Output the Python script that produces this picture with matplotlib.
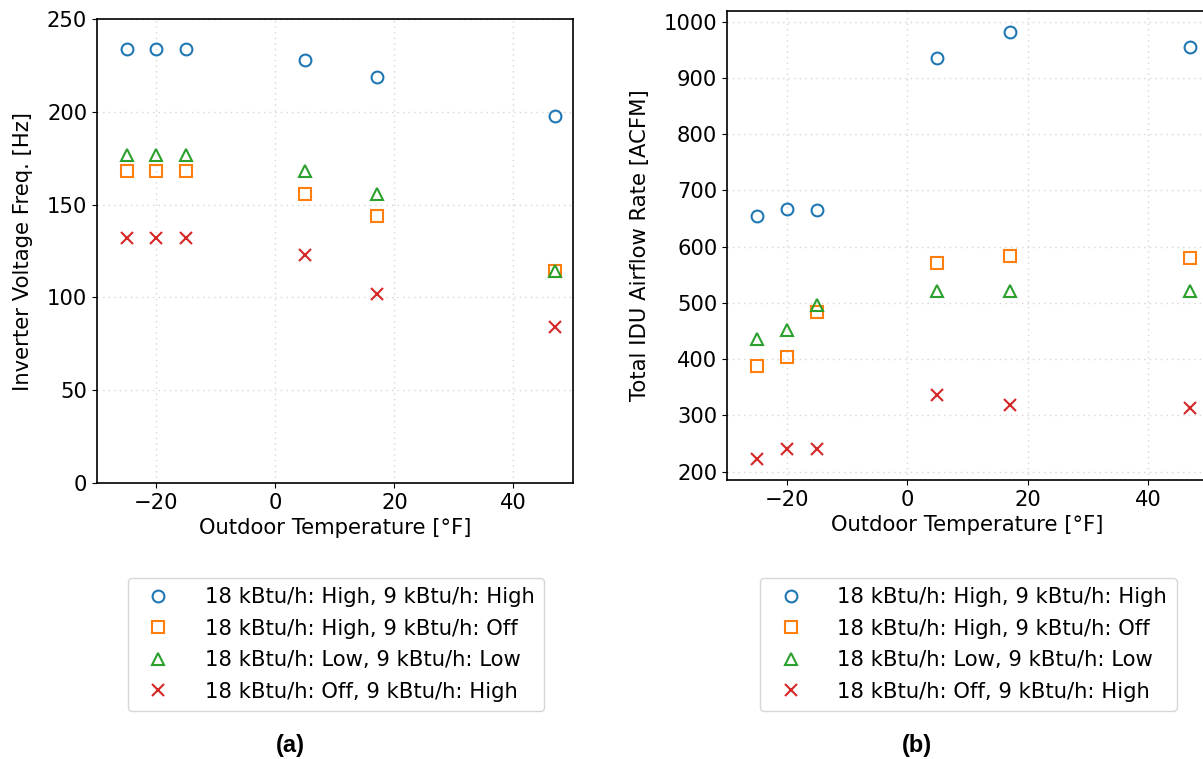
import matplotlib.pyplot as plt

# outdoor temperatures [F]
temps = [-25, -20, -15, 5, 17, 47]

labels = ['18 kBtu/h: High, 9 kBtu/h: High',
          '18 kBtu/h: High, 9 kBtu/h: Off',
          '18 kBtu/h: Low, 9 kBtu/h: Low',
          '18 kBtu/h: Off, 9 kBtu/h: High']

# (a) inverter voltage frequency [Hz]
freq_high_high = [234, 234, 234, 228, 219, 198]
freq_high_off = [168, 168, 168, 156, 144, 114]
freq_low_low = [177, 177, 177, 168, 156, 114]
freq_off_high = [132, 132, 132, 123, 102, 84]

# (b) total IDU airflow rate [ACFM]
flow_high_high = [655, 667, 666, 935, 981, 955]
flow_high_off = [387, 404, 483, 571, 583, 580]
flow_low_low = [435, 451, 497, 521, 521, 521]
flow_off_high = [223, 241, 241, 336, 318, 313]

markers = ['o', 's', '^', 'x']
colors = ['#1f77b4', '#ff7f0e', '#2ca02c', '#d62728']

plt.rcParams['font.family'] = 'DejaVu Sans'
plt.rcParams['font.size'] = 15.2

fig = plt.figure(figsize=(12.03, 7.59), dpi=100)
ax1 = fig.add_axes([0.0806, 0.3636, 0.3957, 0.6113])
ax2 = fig.add_axes([0.6043, 0.3676, 0.400, 0.6179])


def draw(ax, series, ylabel):
    for y, m, c, lab in zip(series, markers, colors, labels):
        if m == 'x':
            ax.plot(temps, y, m, color=c, markersize=9, mew=1.5, label=lab)
        else:
            ax.plot(temps, y, m, color=c, mfc='none', markersize=8.5, mew=1.5, label=lab)
    ax.set_xlim(-30, 50)
    ax.set_xticks([-20, 0, 20, 40])
    ax.set_xlabel('Outdoor Temperature [°F]')
    ax.set_ylabel(ylabel, labelpad=10)
    ax.grid(True, linestyle=(0, (1, 3)), color='#d5d5d5', linewidth=1)
    ax.set_axisbelow(True)
    for sp in ax.spines.values():
        sp.set_linewidth(1.2)


draw(ax1, [freq_high_high, freq_high_off, freq_low_low, freq_off_high],
     'Inverter Voltage Freq. [Hz]')
ax1.set_ylim(0, 250)
ax1.set_yticks([0, 50, 100, 150, 200, 250])

draw(ax2, [flow_high_high, flow_high_off, flow_low_low, flow_off_high],
     'Total IDU Airflow Rate [ACFM]')
ax2.set_yticks(range(200, 1001, 100))

h, l = ax1.get_legend_handles_labels()
fig.legend(h, l, loc='upper center', bbox_to_anchor=(0.2793, 0.253),
           handletextpad=1.2, borderpad=0.45, labelspacing=0.55)
fig.legend(h, l, loc='upper center', bbox_to_anchor=(0.805, 0.253),
           handletextpad=1.2, borderpad=0.45, labelspacing=0.55)

fig.text(0.241, 0.018, '(a)', family='Liberation Sans', weight='bold', fontsize=17,
         ha='center', va='center')
fig.text(0.762, 0.018, '(b)', family='Liberation Sans', weight='bold', fontsize=17,
         ha='center', va='center')

fig.savefig('out.png', dpi=100)
